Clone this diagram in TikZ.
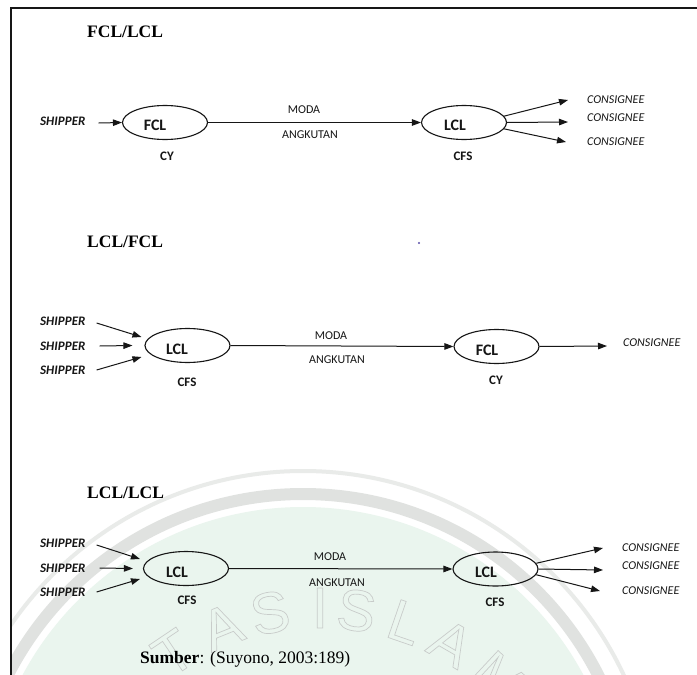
\documentclass[tikz,border=0pt]{standalone}
\usepackage{fontspec}
\setmainfont{Liberation Serif}
\newfontfamily\carl{Carlito}
\newfontfamily\wmfont{Liberation Sans}
\usetikzlibrary{arrows.meta,shapes.geometric}

\definecolor{ink}{RGB}{22,22,22}
\definecolor{wmgreen}{RGB}{234,245,238}
\definecolor{wmgrey}{RGB}{224,226,224}
\definecolor{wmline}{RGB}{200,204,202}
\definecolor{speck}{RGB}{90,80,170}

% hollow (stroked) letters for the seal
\newcommand{\hollow}[1]{\special{pdf:literal direct 1 Tr 0.7 w}#1\special{pdf:literal direct 0 Tr}}

\begin{document}
\begin{tikzpicture}[x=1pt,y=-1pt,
  oval/.style={draw=ink, line width=1.1pt, ellipse, minimum width=85pt, minimum height=34pt, inner sep=0pt},
  flow/.style={-{Triangle[length=9pt,width=6.5pt]}, draw=ink, line width=1pt},
  heading/.style={font=\bfseries\fontsize{17.5}{20}\selectfont, text=black, inner sep=0pt, anchor=west},
  ship/.style={font=\carl\bfseries\itshape\fontsize{13}{15}\selectfont, text=ink, inner sep=0pt, anchor=west},
  cons/.style={font=\carl\itshape\fontsize{12}{14}\selectfont, text=ink, inner sep=0pt, anchor=west},
  inlbl/.style={font=\carl\bfseries\fontsize{16}{18}\selectfont, text=ink, inner sep=0pt},
  yard/.style={font=\carl\bfseries\fontsize{13}{15}\selectfont, text=ink, inner sep=0pt},
  moda/.style={font=\carl\fontsize{12}{14}\selectfont, text=ink, inner sep=0pt},
  wmletter/.style={font=\wmfont\fontsize{58}{60}\selectfont, text=wmline, inner sep=0pt}]

\useasboundingbox (0,0) rectangle (697,675);
\fill[white] (0,0) rectangle (697,675);

% faint seal in the lower part of the page
\begin{scope}
  \clip (11,8) rectangle (697,675);
  \fill[wmgreen] (303,825) circle[radius=318];
  \draw[wmgrey, line width=12pt] (303,825) circle[radius=331];
  \draw[wmgrey!70, line width=4pt] (303,825) circle[radius=354];
  \foreach \ch/\ang in {T/124, A/112, S/101, I/90, S/82, L/71, A/60, M/47}
    \node[wmletter, rotate=\ang-90] at ({320+262*cos(\ang)}, {870-262*sin(\ang)}) {\hollow{\ch}};
\end{scope}

% page frame
\draw[ink, line width=1.8pt] (11,675) -- (11,8) -- (697,8);

% ---------- FCL/LCL ----------
\node[heading] (t1) at (87,32) {FCL/LCL};
\node[ship] (s1) at (40,121) {SHIPPER};
\node[oval] (e1a) at (165,122.5) {};
\node[oval] (e1b) at (464,122.5) {};
\node[inlbl] (l1a) at (155,125.5) {FCL};
\node[inlbl] (l1b) at (455,125.5) {LCL};
\node[yard] (y1a) at (167,156) {CY};
\node[yard] (y1b) at (463,156) {CFS};
\node[moda] (m1) at (304,110) {MODA};
\node[moda] (a1) at (310,135) {ANGKUTAN};
\node[cons] (c1a) at (587,100) {CONSIGNEE};
\node[cons] (c1b) at (587,118) {CONSIGNEE};
\node[cons] (c1c) at (587,142) {CONSIGNEE};
\draw[flow] ([xshift=13pt,yshift=-2pt]s1.east) -- (e1a.west);
\draw[flow] (e1a.east) -- (e1b.west);
\draw[flow] (e1b.9) -- ([xshift=-19pt]c1a.west);
\draw[flow] (e1b.east) -- ([xshift=-19pt,yshift=-4pt]c1b.west);
\draw[flow] (e1b.-9) -- ([xshift=-21pt]c1c.west);

% ---------- LCL/FCL ----------
\node[heading] (t2) at (87,242) {LCL/FCL};
\fill[speck] (419,243) circle[radius=1.1];
\node[ship] (s2a) at (40,321) {SHIPPER};
\node[ship] (s2b) at (40,346) {SHIPPER};
\node[ship] (s2c) at (40,370) {SHIPPER};
\node[oval] (e2a) at (187.5,345.5) {};
\node[oval] (e2b) at (496.5,346.5) {};
\node[inlbl] (l2a) at (177,349.5) {LCL};
\node[inlbl] (l2b) at (487,350) {FCL};
\node[yard] (y2a) at (187,382) {CFS};
\node[yard] (y2b) at (496,380) {CY};
\node[moda] (m2) at (331,336) {MODA};
\node[moda] (a2) at (337,360) {ANGKUTAN};
\node[cons] (c2) at (623,343) {CONSIGNEE};
\draw[flow] ([xshift=11pt,yshift=-2pt]s2a.east) -- ([xshift=-3pt,yshift=8.5pt]e2a.west);
\draw[flow] ([xshift=14pt]s2b.east) -- ([xshift=-12pt]e2a.west);
\draw[flow] ([xshift=11pt]s2c.east) -- ([xshift=-3pt,yshift=-11.5pt]e2a.west);
\draw[flow] (e2a.east) -- (e2b.west);
\draw[flow] (e2b.east) -- ([xshift=-16pt,yshift=-3pt]c2.west);

% ---------- LCL/LCL ----------
\node[heading] (t3) at (87,493) {LCL/LCL};
\node[ship] (s3a) at (40,543) {SHIPPER};
\node[ship] (s3b) at (40,568) {SHIPPER};
\node[ship] (s3c) at (40,592) {SHIPPER};
\node[oval] (e3a) at (186,568.5) {};
\node[oval] (e3b) at (495.5,569) {};
\node[inlbl] (l3a) at (177,572) {LCL};
\node[inlbl] (l3b) at (486,572) {LCL};
\node[yard] (y3a) at (187,600) {CFS};
\node[yard] (y3b) at (495,602) {CFS};
\node[moda] (m3) at (330,557) {MODA};
\node[moda] (a3) at (337,583) {ANGKUTAN};
\node[cons] (c3a) at (622,548) {CONSIGNEE};
\node[cons] (c3b) at (622,566) {CONSIGNEE};
\node[cons] (c3c) at (622,591) {CONSIGNEE};
\draw[flow] ([xshift=11pt,yshift=-2pt]s3a.east) -- ([xshift=-3pt,yshift=9.5pt]e3a.west);
\draw[flow] ([xshift=14pt]s3b.east) -- ([xshift=-10pt]e3a.west);
\draw[flow] ([xshift=11pt]s3c.east) -- ([xshift=-3pt,yshift=-10.5pt]e3a.west);
\draw[flow] (e3a.east) -- (e3b.west);
\draw[flow] (e3b.8) -- ([xshift=-19pt]c3a.west);
\draw[flow] (e3b.east) -- ([xshift=-19pt,yshift=-4pt]c3b.west);
\draw[flow] (e3b.-8) -- ([xshift=-22pt]c3c.west);

% source line
\node[font=\fontsize{17.5}{20}\selectfont, text=black, inner sep=0pt, anchor=west] (src) at (140,659)
  {\textbf{Sumber}: (Suyono, 2003:189)};
\end{tikzpicture}
\end{document}
